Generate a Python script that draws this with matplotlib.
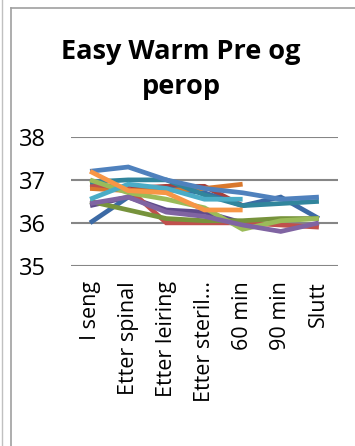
import numpy as np
import matplotlib.pyplot as plt
from matplotlib.lines import Line2D

plt.rcParams['font.family'] = ['Open Sans', 'DejaVu Sans']

nan = np.nan
categories = ["I seng", "Etter spinal", "Etter leiring", "Etter steril...",
              "60 min", "90 min", "Slutt"]

blue = [37.2, 37.3, 37.0, 36.8, 36.7, 36.55, 36.6]
red = [36.9, 36.8, 36.0, 36.0, 36.0, 35.95, 35.9]
green = [37.0, 36.7, 36.55, 36.35, 35.85, 36.05, 36.1]
purple = [36.45, 36.6, 36.25, 36.15, 35.95, 35.8, 36.0]
aqua = [36.55, 36.9, 36.8, 36.55, 36.55, nan, nan]
orange = [37.2, 36.75, 36.7, 36.3, 36.3, nan, nan]
dark_blue = [36.0, 36.6, 36.8, 36.7, 36.4, 36.6, 36.1]
dark_red = [36.85, 36.8, 36.85, 36.85, 36.4, nan, nan]
dark_green = [36.5, 36.3, 36.1, 36.05, 36.05, 36.1, 36.1]
dark_purple = [36.4, 36.6, 36.3, 36.25, 36.0, nan, nan]
teal = [36.95, 37.0, 37.0, 36.65, 36.4, 36.45, 36.5]
dark_orange = [36.8, 36.75, 36.75, 36.8, 36.9, nan, nan]

series = [
    (dark_red, '#a5403d'),
    (dark_purple, '#5f4b8b'),
    (dark_blue, '#3c6aa5'),
    (dark_orange, '#d9782d'),
    (red, '#c0504d'),
    (dark_green, '#77933c'),
    (teal, '#31859c'),
    (blue, '#4f81bd'),
    (green, '#9bbb59'),
    (purple, '#8064a2'),
    (aqua, '#4bacc6'),
    (orange, '#f79646'),
]

fig = plt.figure(figsize=(3.55, 4.46), dpi=100)
ax = fig.add_axes([0.2, 0.404, 0.752, 0.289])

x = np.arange(len(categories))
for vals, col in series:
    ax.plot(x, vals, color=col, lw=3.4, solid_capstyle='butt', solid_joinstyle='miter')

ax.set_xlim(-0.5, len(categories) - 0.5)
ax.set_ylim(35, 38)
ax.set_yticks([35, 36, 37, 38])
ax.yaxis.grid(True, color='#868686', lw=1.5)
ax.set_axisbelow(True)
for s in ax.spines.values():
    s.set_visible(False)
ax.tick_params(length=0)
ax.tick_params(axis='y', labelsize=17, pad=18)
ax.set_xticks(x)
ax.set_xticklabels(categories, rotation=90, fontsize=15.5)
ax.tick_params(axis='x', pad=11)

fig.text(0.51, 0.845, "Easy Warm Pre og\nperop", ha='center', va='center',
         fontsize=19.5, fontweight='bold', linespacing=1.45)

# chart border
fig.add_artist(Line2D([11 / 355, 11 / 355], [0, 1 - 8 / 446], color='#a0a0a0', lw=1.2))
fig.add_artist(Line2D([11 / 355, 1], [1 - 8 / 446, 1 - 8 / 446], color='#a0a0a0', lw=1.2))
fig.add_artist(Line2D([2 / 355, 2 / 355], [0, 1], color='#c0c0c0', lw=1.0))

fig.savefig('out.png', dpi=100)
